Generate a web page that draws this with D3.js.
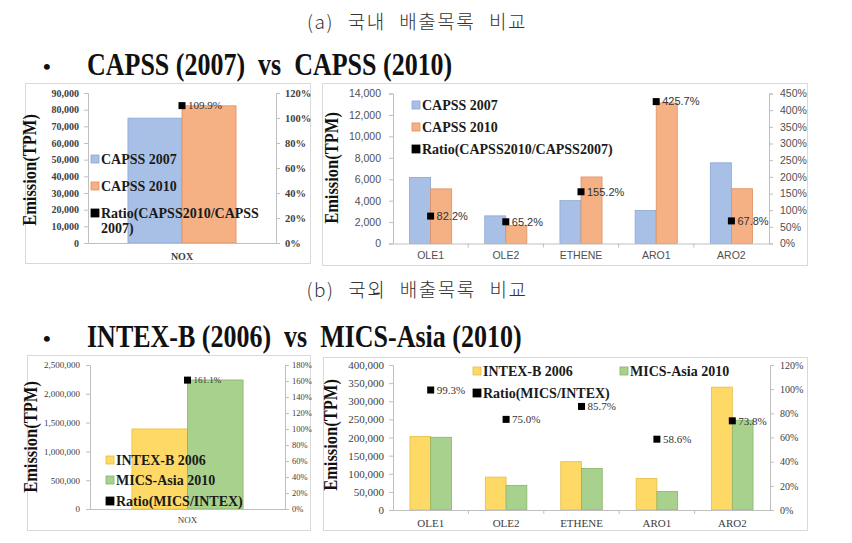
<!DOCTYPE html>
<html><head><meta charset="utf-8">
<script src="https://cdn.jsdelivr.net/npm/d3@7"></script>
<style>body{margin:0;background:#fff}svg{display:block}text{white-space:pre}</style>
</head><body>
<svg id="c" width="852" height="543"></svg>
<script>
// ---------- data ----------
const vocCats = ["OLE1", "OLE2", "ETHENE", "ARO1", "ARO2"];
const noxCats = ["NOX"];

const capss2007Nox = [74900];
const capss2010Nox = [82300];
const capssRatioNox = [109.9];

const capss2007Voc = [6170, 2580, 4000, 3080, 7530];
const capss2010Voc = [5100, 1680, 6210, 13120, 5110];
const capssRatioVoc = [82.2, 65.2, 155.2, 425.7, 67.8];

const intex2006Nox = [1390000];
const mics2010Nox = [2240000];
const intexRatioNox = [161.1];

const intex2006Voc = [202500, 90700, 133300, 87000, 338900];
const mics2010Voc = [200600, 68000, 114500, 51000, 247500];
const intexRatioVoc = [99.3, 75.0, 85.7, 58.6, 73.8];

const ticksCapssNoxL = [0, 10000, 20000, 30000, 40000, 50000, 60000, 70000, 80000, 90000];
const ticksCapssNoxR = [0, 20, 40, 60, 80, 100, 120];
const ticksCapssVocL = [0, 2000, 4000, 6000, 8000, 10000, 12000, 14000];
const ticksCapssVocR = [0, 50, 100, 150, 200, 250, 300, 350, 400, 450];
const ticksIntexNoxL = [0, 500000, 1000000, 1500000, 2000000, 2500000];
const ticksIntexNoxR = [0, 20, 40, 60, 80, 100, 120, 140, 160, 180];
const ticksIntexVocL = [0, 50000, 100000, 150000, 200000, 250000, 300000, 350000, 400000];
const ticksIntexVocR = [0, 20, 40, 60, 80, 100, 120];

const legendCapss = ["CAPSS 2007", "CAPSS 2010", "Ratio(CAPSS2010/CAPSS2007)"];
const legendIntex = ["INTEX-B 2006", "MICS-Asia 2010", "Ratio(MICS/INTEX)"];
const yTitle = "Emission(TPM)";
const captionA = "(a) 국내 배출목록 비교";
const captionB = "(b) 국외 배출목록 비교";
const headA = "CAPSS (2007)  vs  CAPSS (2010)";
const headB = "INTEX-B (2006)  vs  MICS-Asia (2010)";

// ---------- styles ----------
const SERIF = "'Liberation Serif','Times New Roman',serif";
const SANS = "'Liberation Sans',Arial,sans-serif";
const KR = "'Noto Sans CJK KR',sans-serif";
const colBlue = "#a9c0e6", stBlue = "#8aa6d6";
const colOrange = "#f5b084", stOrange = "#dc9163";
const colYellow = "#ffd966", stYellow = "#e5bd45";
const colGreen = "#a9d18e", stGreen = "#86b56a";

const svg = d3.select("#c");

// captions
function caption(txt, y) {
  svg.append("text").attr("x", 417).attr("y", y).attr("text-anchor", "middle")
    .attr("font-family", KR).attr("font-weight", 300).attr("font-size", 19)
    .attr("letter-spacing", 1.5).attr("word-spacing", 8).attr("fill", "#333").text(txt);
}
function heading(txt, y) {
  svg.append("text").attr("x", 43).attr("y", y - 1).attr("font-family", SERIF)
    .attr("font-size", 22).attr("font-weight", "bold").attr("fill", "#111").text("•");
  svg.append("text").attr("transform", `translate(87,${y}) scale(1,1.2)`)
    .attr("font-family", SERIF).attr("font-size", 26).attr("font-weight", "bold")
    .attr("fill", "#111").text(txt);
}
caption(captionA, 29);
heading(headA, 75);
caption(captionB, 297);
heading(headB, 347);

function panel(o) {
  const g = svg.append("g");
  g.append("rect").attr("x", o.box[0] + 0.5).attr("y", o.box[1] + 0.5)
    .attr("width", o.box[2]).attr("height", o.box[3])
    .attr("fill", "#fff").attr("stroke", "#d9d9d9");

  const x = d3.scaleBand().domain(o.cats).range([o.xl, o.xr]);
  const yL = d3.scaleLinear().domain([0, d3.max(o.ticksL)]).range([o.yb, o.yt]);
  const yR = d3.scaleLinear().domain([0, d3.max(o.ticksR)]).range([o.yb, o.yt]);
  const inner = d3.scaleBand().domain([0, 1])
    .range([0, x.bandwidth() * o.frac]);
  const off = x.bandwidth() * (1 - o.frac) / 2;

  // bars
  [[o.s1, o.c1, o.st1], [o.s2, o.c2, o.st2]].forEach(([vals, fill, st], k) => {
    g.selectAll(null).data(vals).enter().append("rect")
      .attr("x", (d, i) => x(o.cats[i]) + off + inner(k))
      .attr("y", d => yL(d))
      .attr("width", inner.bandwidth())
      .attr("height", d => yL(0) - yL(d))
      .attr("fill", fill).attr("stroke", st).attr("stroke-width", 0.8);
  });

  const styleAxis = (ax, font, size, weight, color) => {
    ax.select(".domain").attr("stroke", "#bfbfbf");
    ax.selectAll(".tick line").attr("stroke", "#bfbfbf");
    ax.selectAll("text").attr("font-family", font).attr("font-size", size)
      .attr("font-weight", weight).attr("fill", color);
  };
  const axL = g.append("g").attr("transform", `translate(${o.xl},0)`)
    .call(d3.axisLeft(yL).tickValues(o.ticksL).tickSizeOuter(0).tickSize(4)
      .tickPadding(o.padL).tickFormat(d3.format(",")));
  styleAxis(axL, o.tickFont, o.tickSizeL, o.tickWeight, o.tickColor);
  const axR = g.append("g").attr("transform", `translate(${o.xr},0)`)
    .call(d3.axisRight(yR).tickValues(o.ticksR).tickSizeOuter(0).tickSize(4)
      .tickPadding(o.padR).tickFormat(d => d + "%"));
  styleAxis(axR, o.tickFont, o.tickSizeR, o.tickWeight, o.tickColor);
  const axB = g.append("g").attr("transform", `translate(0,${o.yb})`)
    .call(d3.axisBottom(x).tickSize(0).tickPadding(o.padB).tickSizeOuter(0));
  styleAxis(axB, o.catFont, o.catSize, o.catWeight, o.tickColor);
  if (o.cats.length > 1) {
    g.selectAll(null).data(o.cats.slice(1)).enter().append("line")
      .attr("x1", d => x(d)).attr("x2", d => x(d))
      .attr("y1", o.yb).attr("y2", o.yb + 4).attr("stroke", "#bfbfbf");
  }

  // y title
  g.append("text").attr("transform", `translate(${o.tx},${o.ty}) rotate(-90) scale(1,1.1)`)
    .attr("text-anchor", "middle").attr("font-family", SERIF)
    .attr("font-weight", "bold").attr("font-size", o.titleSize).attr("fill", "#111")
    .text(yTitle);

  // ratio markers
  g.selectAll(null).data(o.ratio).enter().append("rect")
    .attr("x", (d, i) => x(o.cats[i]) + x.bandwidth() / 2 - 3.5)
    .attr("y", d => yR(d) - 3.5).attr("width", 7).attr("height", 7).attr("fill", "#000");
  g.selectAll(null).data(o.ratio).enter().append("text")
    .attr("x", (d, i) => x(o.cats[i]) + x.bandwidth() / 2 + 6)
    .attr("y", d => yR(d) + o.ratioSize * 0.35)
    .attr("font-family", o.ratioFont).attr("font-size", o.ratioSize)
    .attr("fill", "#333").text(d => d.toFixed(1) + "%");

  // legend
  const sw = [[o.c1, o.st1], [o.c2, o.st2], ["#000", "#000"]];
  o.legendPos.forEach((p, i) => {
    g.append("rect").attr("x", p[0]).attr("y", p[1] - 9).attr("width", 8).attr("height", 8)
      .attr("fill", sw[i][0]).attr("stroke", sw[i][1]).attr("stroke-width", 0.8);
    const t = g.append("text").attr("x", p[0] + 10).attr("y", p[1])
      .attr("font-family", SERIF).attr("font-weight", "bold")
      .attr("font-size", o.legSize).attr("fill", "#1a1a1a");
    let label = o.legend[i];
    if (i === 2 && o.wrapAt) {
      t.append("tspan").text(label.slice(0, o.wrapAt));
      t.append("tspan").attr("x", p[0] + 10).attr("dy", 15).text(label.slice(o.wrapAt));
    } else t.text(label);
  });
}

// (a) NOX
panel({
  box: [25, 83, 285, 180], xl: 88, xr: 276, yt: 93, yb: 243,
  cats: noxCats, s1: capss2007Nox, s2: capss2010Nox, ratio: capssRatioNox,
  c1: colBlue, st1: stBlue, c2: colOrange, st2: stOrange, frac: 0.575,
  ticksL: ticksCapssNoxL, ticksR: ticksCapssNoxR,
  tickFont: SERIF, tickSizeL: 10, tickSizeR: 10.5, tickWeight: "bold", tickColor: "#404040",
  padL: 5, padR: 5, padB: 10, catFont: SERIF, catSize: 10, catWeight: "bold",
  tx: 36, ty: 170, titleSize: 16.5,
  ratioFont: SERIF, ratioSize: 11,
  legend: legendCapss, legSize: 14, wrapAt: 21,
  legendPos: [[91, 164], [91, 191], [91, 218]]
});
// (a) VOC
panel({
  box: [322, 83, 485, 182], xl: 393, xr: 769, yt: 93.5, yb: 243.5,
  cats: vocCats, s1: capss2007Voc, s2: capss2010Voc, ratio: capssRatioVoc,
  c1: colBlue, st1: stBlue, c2: colOrange, st2: stOrange, frac: 0.56,
  ticksL: ticksCapssVocL, ticksR: ticksCapssVocR,
  tickFont: SANS, tickSizeL: 10.5, tickSizeR: 10.5, tickWeight: "normal", tickColor: "#505050",
  padL: 8, padR: 7, padB: 8, catFont: SANS, catSize: 10.5, catWeight: "normal",
  tx: 338, ty: 168, titleSize: 16.5,
  ratioFont: SANS, ratioSize: 11,
  legend: legendCapss, legSize: 14,
  legendPos: [[412, 110], [412, 132], [412, 154]]
});
// (b) NOX
panel({
  box: [27, 355, 283, 175], xl: 90, xr: 285, yt: 365, yb: 509,
  cats: noxCats, s1: intex2006Nox, s2: mics2010Nox, ratio: intexRatioNox,
  c1: colYellow, st1: stYellow, c2: colGreen, st2: stGreen, frac: 0.57,
  ticksL: ticksIntexNoxL, ticksR: ticksIntexNoxR,
  tickFont: SERIF, tickSizeL: 9, tickSizeR: 8.5, tickWeight: "normal", tickColor: "#404040",
  padL: 6, padR: 3, padB: 8, catFont: SERIF, catSize: 9, catWeight: "normal",
  tx: 37, ty: 437, titleSize: 16.5,
  ratioFont: SERIF, ratioSize: 9,
  legend: legendIntex, legSize: 14,
  legendPos: [[106, 465], [106, 485], [106, 506]]
});
// (b) VOC
panel({
  box: [323, 357, 484, 173], xl: 393, xr: 770, yt: 365, yb: 510,
  cats: vocCats, s1: intex2006Voc, s2: mics2010Voc, ratio: intexRatioVoc,
  c1: colYellow, st1: stYellow, c2: colGreen, st2: stGreen, frac: 0.55,
  ticksL: ticksIntexVocL, ticksR: ticksIntexVocR,
  tickFont: SERIF, tickSizeL: 11, tickSizeR: 10, tickWeight: "normal", tickColor: "#404040",
  padL: 5, padR: 6, padB: 9, catFont: SERIF, catSize: 11, catWeight: "normal",
  tx: 337, ty: 435, titleSize: 16.5,
  ratioFont: SERIF, ratioSize: 11,
  legend: legendIntex, legSize: 14,
  legendPos: [[473, 376], [620, 376], [473, 398]]
});
</script>
</body></html>
